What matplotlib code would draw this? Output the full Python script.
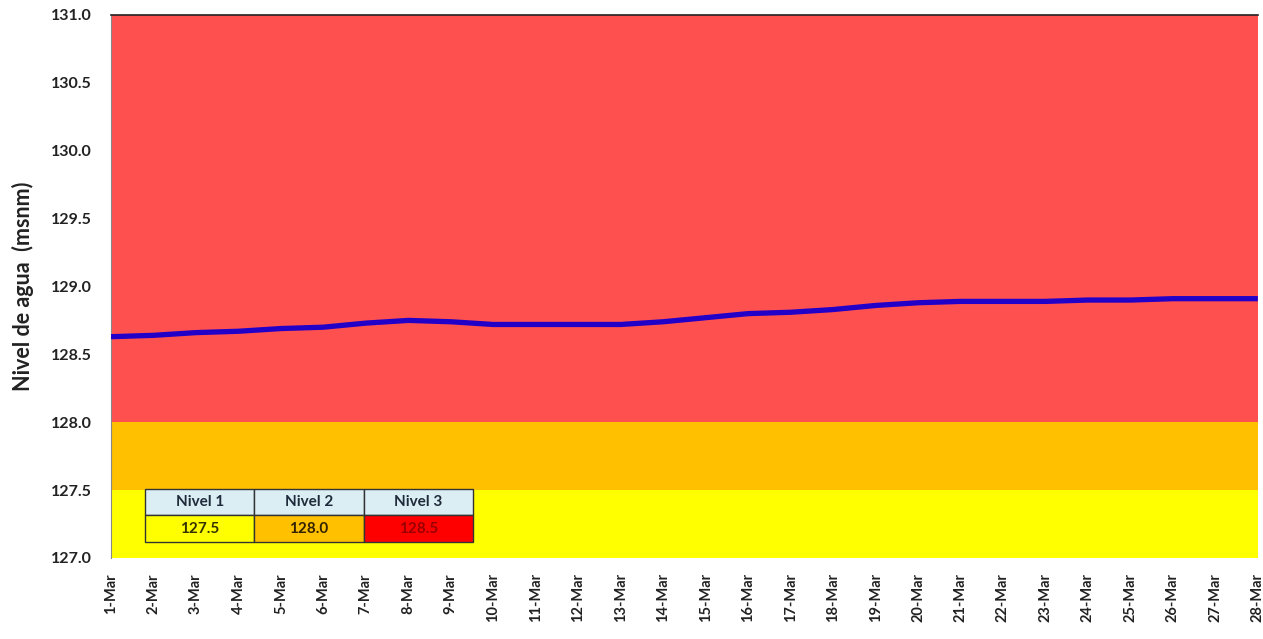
import matplotlib
matplotlib.use("Agg")
import matplotlib.pyplot as plt

dias = [f"{d}-Mar" for d in range(1, 29)]
nivel = [128.63, 128.64, 128.66, 128.67, 128.69, 128.70, 128.73, 128.75,
         128.74, 128.72, 128.72, 128.72, 128.72, 128.74, 128.77, 128.80,
         128.81, 128.83, 128.86, 128.88, 128.89, 128.89, 128.89, 128.90,
         128.90, 128.91, 128.91, 128.91]

bandas = [127.0, 127.5, 128.0, 131.0]
colores_banda = ["#FFFF00", "#FFC000", "#FF5050"]

niveles_tabla = ["Nivel 1", "Nivel 2", "Nivel 3"]
valores_tabla = ["127.5", "128.0", "128.5"]
colores_tabla = ["#FFFF00", "#FFC000", "#FF0000"]
colores_texto = ["#333300", "#332200", "#990000"]

plt.rcParams['font.family'] = ['Lato', 'DejaVu Sans']

fig = plt.figure(figsize=(12.63, 6.39), dpi=100)
ax = fig.add_axes([0.0879, 0.1268, 0.908, 0.8498])

x = list(range(len(dias)))
for lo, hi, c in zip(bandas[:-1], bandas[1:], colores_banda):
    ax.axhspan(lo, hi, color=c, zorder=0, lw=0)

ax.plot(x, nivel, color="#2200C8", lw=3.8, solid_capstyle="butt",
        solid_joinstyle="round", zorder=3)

ax.set_xlim(0, len(dias) - 1)
ax.set_ylim(127.0, 131.0)
ax.set_yticks([127 + 0.5 * i for i in range(9)])
ax.set_yticklabels([f"{127 + 0.5 * i:.1f}" for i in range(9)],
                   fontweight="bold", fontsize=11.5, color="#222222")
ax.set_xticks(x)
ax.set_xticklabels(dias, rotation=90, fontsize=10.5, fontweight="bold",
                   color="#222222")
ax.tick_params(axis="x", length=0, pad=11)
ax.tick_params(axis="y", length=0, pad=14)
ax.set_ylabel("Nivel de agua  (msnm)", fontsize=15.5, fontweight="bold",
              color="#222222", labelpad=12)

for s in ["right", "bottom"]:
    ax.spines[s].set_visible(False)
ax.spines["left"].set_color("#888888")
ax.spines["top"].set_color("#222222")
ax.spines["top"].set_linewidth(1.2)

# tabla de niveles
tabla = ax.table(cellText=[niveles_tabla, valores_tabla],
                 cellLoc="center",
                 bbox=[0.0296, 0.0295, 0.286, 0.0975])
for j in range(3):
    h = tabla[0, j]
    h.set_facecolor("#DAEEF3")
    h.set_edgecolor("#333333")
    h.get_text().set_fontweight("bold")
    h.get_text().set_color("#1F2A3A")
    v = tabla[1, j]
    v.set_facecolor(colores_tabla[j])
    v.set_edgecolor("#333333")
    v.get_text().set_fontweight("bold")
    v.get_text().set_color(colores_texto[j])
tabla.auto_set_font_size(False)
tabla.set_fontsize(11)
tabla.set_zorder(5)

fig.savefig("out.png", dpi=100)
